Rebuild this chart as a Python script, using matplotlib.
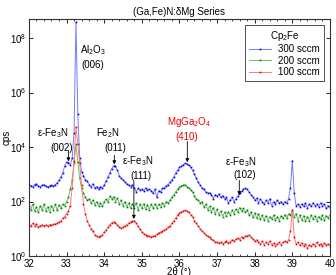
import numpy as np
import matplotlib
matplotlib.use("Agg")
import matplotlib.pyplot as plt
from matplotlib.ticker import MultipleLocator, NullLocator

plt.rcParams["font.family"] = ["Liberation Sans", "DejaVu Sans"]
plt.rcParams["mathtext.fontset"] = "custom"
plt.rcParams["mathtext.rm"] = "Liberation Sans"
plt.rcParams["mathtext.it"] = "Liberation Sans:italic"
plt.rcParams["mathtext.bf"] = "Liberation Sans:bold"

# scan grid, 2theta in degrees
two_theta = np.round(np.arange(32.0, 40.001, 0.05), 2)

# log10(cps), one value per grid step
blue_log = [
    2.62, 2.58, 2.55, 2.62, 2.65, 2.58, 2.55, 2.60, 2.62, 2.56,
    2.52, 2.58, 2.60, 2.56, 2.62, 2.68, 2.78, 2.90, 3.05, 3.30,
    3.45, 3.42, 3.35, 3.60, 4.50, 8.60, 5.20, 3.60, 3.10, 2.95,
    2.80, 2.75, 2.62, 2.55, 2.65, 2.50, 2.55, 2.45, 2.55, 2.50,
    2.60, 2.75, 2.90, 3.05, 3.20, 3.32, 3.30, 3.15, 2.95, 2.85,
    2.80, 2.72, 2.65, 2.60, 2.55, 2.62, 2.50, 2.35, 2.48, 2.42,
    2.45, 2.38, 2.50, 2.42, 2.45, 2.40, 2.30, 2.45, 2.15, 2.40,
    2.35, 2.48, 2.50, 2.58, 2.62, 2.70, 2.80, 2.90, 3.05, 3.15,
    3.25, 3.30, 3.35, 3.40, 3.38, 3.33, 3.25, 3.15, 3.00, 2.85,
    2.70, 2.60, 2.50, 2.45, 2.35, 2.30, 2.32, 2.25, 2.10, 2.25,
    2.20, 2.28, 2.15, 2.22, 2.10, 2.15, 1.95, 2.05, 2.15, 2.00,
    2.10, 2.20, 2.30, 2.38, 2.45, 2.48, 2.45, 2.35, 2.25, 2.18,
    2.05, 2.12, 1.95, 2.08, 2.00, 1.90, 2.05, 1.95, 2.10, 1.85,
    2.00, 1.90, 2.05, 1.95, 2.00, 1.90, 2.00, 1.95, 2.10, 2.50,
    3.50, 2.30, 1.85, 1.90, 1.80, 1.92, 1.82, 1.95, 1.78, 1.90,
    1.82, 1.95, 1.85, 1.90, 1.80, 1.95, 1.85, 1.90, 1.75, 1.85,
    1.80,
]
green_log = [
    1.85, 1.70, 1.90, 1.65, 1.80, 1.60, 1.85, 1.70, 1.90, 1.65,
    1.80, 1.62, 1.85, 1.70, 1.90, 1.68, 1.88, 1.75, 1.90, 1.85,
    2.00, 2.15, 2.45, 2.80, 3.40, 4.10, 3.45, 2.85, 2.50, 2.30,
    2.15, 2.05, 2.10, 1.95, 2.05, 1.88, 2.00, 1.85, 1.95, 1.82,
    2.00, 2.08, 1.98, 2.20, 2.10, 2.18, 2.00, 2.12, 1.92, 2.05,
    1.85, 2.00, 1.80, 1.95, 1.75, 1.92, 1.78, 1.95, 1.70, 1.90,
    1.75, 1.92, 1.72, 1.88, 1.70, 1.90, 1.75, 1.92, 1.78, 1.90,
    1.80, 1.95, 1.85, 2.00, 1.95, 2.05, 2.15, 2.25, 2.35, 2.45,
    2.52, 2.58, 2.60, 2.62, 2.55, 2.50, 2.42, 2.35, 2.20, 2.10,
    2.05, 1.95, 2.00, 1.80, 1.90, 1.70, 1.82, 1.62, 1.78, 1.55,
    1.72, 1.50, 1.65, 1.45, 1.60, 1.48, 1.62, 1.50, 1.68, 1.55,
    1.72, 1.62, 1.78, 1.65, 1.75, 1.60, 1.70, 1.50, 1.62, 1.42,
    1.58, 1.40, 1.55, 1.35, 1.50, 1.32, 1.48, 1.30, 1.45, 1.35,
    1.50, 1.32, 1.45, 1.30, 1.48, 1.38, 1.52, 1.40, 1.55, 1.50,
    1.65, 1.45, 1.55, 1.30, 1.50, 1.32, 1.48, 1.28, 1.45, 1.30,
    1.50, 1.35, 1.48, 1.30, 1.45, 1.35, 1.50, 1.32, 1.48, 1.40,
    1.50,
]
red_log = [
    1.15, 1.10, 1.20, 1.12, 1.18, 1.05, 1.12, 1.15, 1.10, 1.14,
    1.12, 1.15, 1.13, 1.16, 1.18, 1.20, 1.25, 1.30, 1.38, 1.45,
    1.55, 1.65, 1.85, 2.50, 3.50, 4.75, 4.10, 3.40, 2.60, 1.90,
    1.55, 1.30, 1.15, 1.00, 0.90, 0.78, 0.72, 0.70, 0.72, 0.78,
    0.88, 0.95, 1.05, 1.15, 1.22, 1.26, 1.22, 1.15, 1.08, 1.02,
    1.05, 1.10, 1.15, 1.20, 1.25, 1.28, 1.30, 1.20, 1.10, 0.98,
    0.88, 0.82, 0.78, 0.75, 0.72, 0.70, 0.72, 0.75, 0.80, 0.85,
    0.88, 0.90, 0.95, 1.00, 1.05, 1.10, 1.20, 1.30, 1.40, 1.50,
    1.58, 1.63, 1.66, 1.68, 1.65, 1.60, 1.52, 1.44, 1.30, 1.20,
    1.10, 1.00, 0.92, 0.85, 0.78, 0.72, 0.68, 0.62, 0.58, 0.52,
    0.50, 0.47, 0.50, 0.45, 0.50, 0.55, 0.48, 0.52, 0.60, 0.55,
    0.62, 0.65, 0.60, 0.70, 0.65, 0.72, 0.75, 0.78, 0.70, 0.62,
    0.55, 0.60, 0.50, 0.45, 0.55, 0.42, 0.50, 0.45, 0.55, 0.40,
    0.48, 0.38, 0.45, 0.50, 0.42, 0.50, 0.55, 0.50, 0.60, 0.90,
    1.70, 0.70, 0.45, 0.50, 0.40, 0.48, 0.35, 0.45, 0.30, 0.42,
    0.35, 0.45, 0.38, 0.50, 0.40, 0.45, 0.35, 0.48, 0.40, 0.45,
    0.38,
]

series_labels = ["300 sccm", "200 sccm", "100 sccm"]
line_colors = ["#7a7aff", "#6fbf6f", "#ff7a7a"]
dot_colors = ["#0000dd", "#007a00", "#dd0000"]

# peak labels: (text lines, text positions, arrow x, arrow tail, arrow head, colour)
peaks = [
    (["ε-Fe$_3$N", "(002)"], [(32.64, 4.50), (32.88, 3.96)], 33.05, 3.85, 3.47, "k"),
    (["Al$_2$O$_3$", "(006)"], [(33.71, 7.55), (33.69, 7.00)], None, None, None, "k"),
    (["Fe$_2$N", "(011)"], [(34.09, 4.50), (34.29, 3.96)], 34.27, 3.70, 3.36, "k"),
    (["ε-Fe$_3$N", "(111)"], [(34.88, 3.48), (34.98, 2.93)], 34.79, 2.75, 1.36, "k"),
    (["MgGa$_2$O$_4$", "(410)"], [(36.26, 4.92), (36.20, 4.36)], 36.21, 4.20, 3.44, "#ee0000"),
    (["ε-Fe$_3$N", "(102)"], [(37.62, 3.45), (37.74, 2.97)], 37.59, 2.78, 2.23, "k"),
]

fig = plt.figure(figsize=(3.36, 2.75), dpi=100)
ax = fig.add_axes([0.086, 0.069, 0.896, 0.862])

for vals, lab, lc, dc in zip([blue_log, green_log, red_log], series_labels, line_colors, dot_colors):
    ax.plot(two_theta, 10.0 ** np.array(vals), "-", color=lc, lw=0.7,
            marker="s", ms=1.2, mfc=dc, mec=dc, mew=0, label=lab)

for lines, pos, ax_x, tail, head, col in peaks:
    for txt, (px, py) in zip(lines, pos):
        ax.text(px, 10 ** py, txt, ha="center", va="center", fontsize=7, color=col)
    if ax_x is not None:
        ax.annotate("", xy=(ax_x, 10 ** head), xytext=(ax_x, 10 ** tail),
                    arrowprops=dict(arrowstyle="-|>", lw=0.6, color="k",
                                    mutation_scale=5, shrinkA=0, shrinkB=0))

ax.set_yscale("log")
ax.set_xlim(32, 40)
ax.set_ylim(1, 5e8)
ax.xaxis.set_major_locator(MultipleLocator(1))
ax.xaxis.set_minor_locator(MultipleLocator(0.2))
ax.set_yticks([1, 1e2, 1e4, 1e6, 1e8])
ax.yaxis.set_minor_locator(NullLocator())
ax.tick_params(which="both", direction="in", top=True, right=True, labelsize=7, pad=2)
ax.tick_params(which="major", length=3, width=0.6)
ax.tick_params(which="minor", length=1.5, width=0.5)
for s in ax.spines.values():
    s.set_linewidth(0.8)
    s.set_color("#333333")

ax.set_xlabel("2θ (°)", fontsize=7)
ax.xaxis.set_label_coords(0.5, -0.045)
ax.set_ylabel("cps", fontsize=7)
ax.yaxis.set_label_coords(-0.058, 0.5)
ax.set_title("(Ga,Fe)N:δMg Series", fontsize=7, pad=3)

leg = ax.legend(title="Cp$_2$Fe", fontsize=7, title_fontsize=7, loc="upper right",
                numpoints=1, handlelength=2.2, borderaxespad=0.6, fancybox=False,
                framealpha=1, edgecolor="#333333", labelspacing=0.15, borderpad=0.4)
leg.get_frame().set_linewidth(0.6)

fig.savefig("out.png", dpi=100)
